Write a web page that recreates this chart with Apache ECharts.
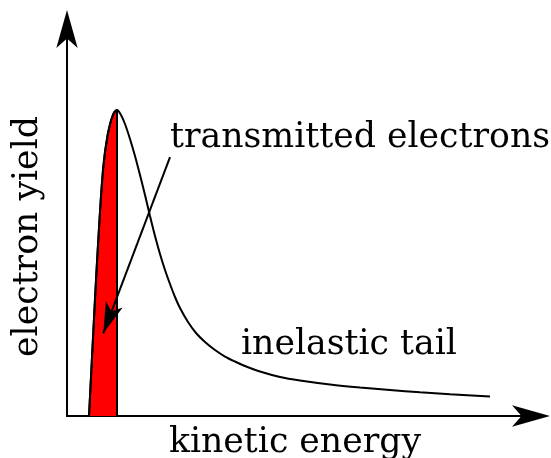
<!DOCTYPE html>
<html>
<head>
<meta charset="utf-8">
<script src="https://cdn.jsdelivr.net/npm/echarts@6/dist/echarts.min.js"></script>
<style>
  html, body { margin: 0; padding: 0; background: #fff; }
  #chart { width: 551px; height: 458px; }
</style>
</head>
<body>
<div id="chart"></div>
<script>
// Spectrum shape: kinetic energy (arbitrary units) vs electron yield (arbitrary units)
const energy = [4.741, 5.172, 5.603, 6.034, 6.466, 6.897, 7.328, 7.759, 8.190, 8.836,
                9.483, 10.129, 10.776,
                11.638, 12.500, 13.578, 14.655, 15.733, 16.810, 17.888, 18.966,
                20.043, 21.121, 22.198, 23.276, 24.353, 26.078, 27.802, 29.741,
                31.897, 34.052, 36.207, 38.362, 41.595, 45.905, 50.216, 56.681,
                63.147, 69.612, 76.078, 82.543, 91.164];
const electronYield = [0, 10.08, 20.16, 30.23, 39.79, 48.58, 56.85, 63.57, 68.22, 73.13,
                       76.36, 78.42, 79.07,
                       77.78, 75.45, 71.58, 67.18, 62.27, 57.11, 51.68, 46.51,
                       41.86, 37.73, 34.11, 30.75, 27.91, 24.29, 21.45, 19.12,
                       17.05, 15.37, 14.08, 12.92, 11.50, 10.08, 9.17, 8.14,
                       7.36, 6.72, 6.12, 5.61, 5.04];
// Transmitted (elastic) peak: the points of the rising edge up to the maximum
const peakCount = 13;
// Pointer from the "transmitted electrons" label into the peak: [start, tip]
const pointerEnergy = [22.2, 7.82];
const pointerYield = [66.9, 21.37];

const labelTransmitted = 'transmitted electrons';
const labelTail = 'inelastic tail';
const xName = 'kinetic energy';
const yName = 'electron yield';

const curve = energy.map((e, i) => [e, electronYield[i]]);
const peakRegion = curve.slice(0, peakCount);
peakRegion.push([energy[peakCount - 1], 0]);

const font = 'DejaVu Serif';
const headSize = [13.5, 31];

const chart = echarts.init(document.getElementById('chart'), null, { renderer: 'canvas' });

const option = {
  animation: false,
  backgroundColor: '#ffffff',
  grid: { left: 67, right: 20, top: 29, bottom: 42, containLabel: false, outerBoundsMode: 'none' },
  xAxis: {
    type: 'value', min: 0, max: 100,
    name: xName, nameLocation: 'middle', nameGap: 9,
    nameTextStyle: { fontFamily: font, fontSize: 34.7, color: '#000', padding: [0, 8, 0, 0] },
    axisLine: { show: true, onZero: false, symbol: ['none', 'arrow'], symbolSize: [16, 38],
                symbolOffset: [0, 19],
                lineStyle: { color: '#000', width: 2 } },
    axisTick: { show: false }, axisLabel: { show: false }, splitLine: { show: false }
  },
  yAxis: {
    type: 'value', min: 0, max: 100,
    name: yName, nameLocation: 'middle', nameGap: 22, nameRotate: 90,
    nameTextStyle: { fontFamily: font, fontSize: 34.7, color: '#000', padding: [0, 28, 0, 0] },
    axisLine: { show: true, onZero: false, symbol: ['none', 'arrow'], symbolSize: [16, 38],
                symbolOffset: [0, 19],
                lineStyle: { color: '#000', width: 2 } },
    axisTick: { show: false }, axisLabel: { show: false }, splitLine: { show: false }
  },
  series: [
    {
      type: 'line',
      data: peakRegion,
      showSymbol: false,
      silent: true,
      lineStyle: { color: '#000', width: 2 },
      areaStyle: { color: '#ff0000', opacity: 1, origin: 'start' },
      z: 2
    },
    {
      type: 'line',
      data: curve,
      showSymbol: false,
      smooth: 0.3,
      silent: true,
      lineStyle: { color: '#000', width: 2 },
      z: 3,
      markLine: {
        silent: true,
        symbol: ['none', 'none'],
        label: { show: false },
        lineStyle: { color: '#000', width: 2, type: 'solid' },
        data: [[
          { coord: [pointerEnergy[0], pointerYield[0]] },
          { coord: [pointerEnergy[1], pointerYield[1]] }
        ]]
      }
    }
  ],
  graphic: [
    {
      type: 'text', left: 170, top: 120,
      style: { text: labelTransmitted, font: '34.7px "DejaVu Serif"', fill: '#000' }
    },
    {
      type: 'text', left: 241, top: 327,
      style: { text: labelTail, font: '34.7px "DejaVu Serif"', fill: '#000' }
    }
  ]
};
chart.setOption(option);

// Arrowhead at the pointer tip, turned along the pointer direction
const p0 = chart.convertToPixel({ gridIndex: 0 }, [pointerEnergy[0], pointerYield[0]]);
const p1 = chart.convertToPixel({ gridIndex: 0 }, [pointerEnergy[1], pointerYield[1]]);
const len = Math.hypot(p1[0] - p0[0], p1[1] - p0[1]);
const ux = (p1[0] - p0[0]) / len;
const uy = (p1[1] - p0[1]) / len;
const headRotate = Math.atan2(-ux, -uy) * 180 / Math.PI;

chart.setOption({
  series: option.series.concat([{
    type: 'scatter',
    data: [[pointerEnergy[1], pointerYield[1]]],
    symbol: 'arrow',
    symbolSize: headSize,
    symbolRotate: headRotate,
    itemStyle: { color: '#000', opacity: 1 },
    silent: true,
    z: 4
  }])
});
</script>
</body>
</html>
